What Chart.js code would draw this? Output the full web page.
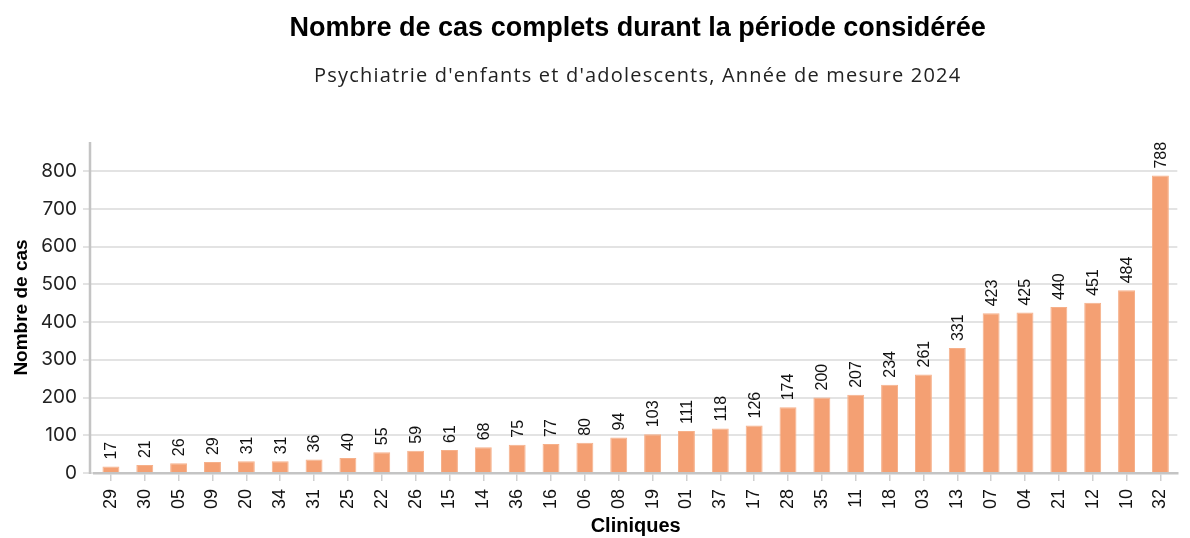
<!DOCTYPE html>
<html><head><meta charset="utf-8">
<script src="https://cdn.jsdelivr.net/npm/chart.js@4"></script>
<style>html,body{margin:0;padding:0;background:#fff}#wrap{width:1190px;height:538px}</style>
</head><body><div id="wrap"><canvas id="c" width="1190" height="538"></canvas></div>
<script>
const titleText = "Nombre de cas complets durant la période considérée";
const subtitleText = "Psychiatrie d'enfants et d'adolescents, Année de mesure 2024";
const categories = ["29","30","05","09","20","34","31","25","22","26","15","14","36","16","06","08","19","01","37","17","28","35","11","18","03","13","07","04","21","12","10","32"];
const values = [17,21,26,29,31,31,36,40,55,59,61,68,75,77,80,94,103,111,118,126,174,200,207,234,261,331,423,425,440,451,484,788];
const yTicks = [0,100,200,300,400,500,600,700,800];
const yLabel = "Nombre de cas";
const xLabel = "Cliniques";

const labelPlugin = {
  id: 'barLabels',
  afterDatasetsDraw(chart) {
    const ctx = chart.ctx;
    const meta = chart.getDatasetMeta(0);
    ctx.save();
    ctx.font = '16px "Liberation Sans", Arial, sans-serif';
    ctx.fillStyle = '#111';
    ctx.textAlign = 'left';
    ctx.textBaseline = 'middle';
    meta.data.forEach((bar, i) => {
      ctx.save();
      ctx.translate(bar.x + 1, bar.y - 7);
      ctx.rotate(-Math.PI / 2);
      ctx.fillText(String(values[i]), 0, 0);
      ctx.restore();
    });
    ctx.restore();
  }
};
const axisPlugin = {
  id: 'yAxisLine',
  afterDraw(chart) {
    const ctx = chart.ctx;
    const a = chart.chartArea;
    ctx.save();
    ctx.strokeStyle = '#c4c4c4';
    ctx.lineWidth = 2.5;
    ctx.beginPath();
    ctx.moveTo(90, a.top);
    ctx.lineTo(90, a.bottom + 1);
    ctx.stroke();
    ctx.restore();
  }
};
const titlePlugin = {
  id: 'titles',
  afterDraw(chart) {
    const ctx = chart.ctx;
    const a = chart.chartArea;
    const cx = (a.left + a.right) / 2 + 2;
    ctx.save();
    ctx.fillStyle = '#000';
    ctx.textAlign = 'center';
    ctx.textBaseline = 'middle';
    ctx.font = 'bold 27px "Liberation Sans", Arial, sans-serif';
    ctx.fillText(titleText, cx, 29);
    ctx.font = '20px "Open Sans", sans-serif';
    ctx.letterSpacing = '1.2px';
    ctx.fillStyle = '#222';
    ctx.fillText(subtitleText, cx, 76);
    ctx.restore();
  }
};

new Chart(document.getElementById('c'), {
  type: 'bar',
  data: {
    labels: categories,
    datasets: [{
      data: values,
      backgroundColor: '#f4a073',
      borderColor: '#f6b08a',
      borderWidth: 1,
      barPercentage: 0.5,
      categoryPercentage: 1.0
    }]
  },
  options: {
    responsive: false,
    animation: false,
    layout: { padding: { top: 142, right: 0, left: 0, bottom: 0 } },
    plugins: { legend: { display: false }, tooltip: { enabled: false }, title: { display: false } },
    scales: {
      x: {
        offset: true,
        afterFit(axis) { axis.height = 65; },
        grid: { drawOnChartArea: false, drawTicks: true, offset: false, tickLength: 8, tickColor: '#cfcfcf', lineWidth: 1.5 },
        border: { color: '#c4c4c4', width: 2.5 },
        ticks: { minRotation: 90, maxRotation: 90, autoSkip: false, color: '#111', padding: 8,
          font: { family: '"Liberation Sans", Arial, sans-serif', size: 18 } },
        title: { display: true, text: xLabel, color: '#000', padding: { top: 0, bottom: 0 },
          font: { family: '"Liberation Sans", Arial, sans-serif', size: 20, weight: 'bold' } }
      },
      y: {
        min: 0, max: 877,
        afterFit(axis) { axis.width = 94; },
        afterBuildTicks(axis) { axis.ticks = yTicks.map(v => ({ value: v })); },
        grid: { color: '#e3e3e3', lineWidth: 2, tickLength: 11, tickColor: '#e3e3e3' },
        border: { display: false },
        ticks: { color: '#222', padding: 6, font: { family: 'Inter, sans-serif', size: 19 } },
        title: { display: true, text: yLabel, color: '#000', padding: { top: 10, bottom: 0 },
          font: { family: '"Liberation Sans", Arial, sans-serif', size: 19, weight: 'bold' } }
      }
    }
  },
  plugins: [labelPlugin, axisPlugin, titlePlugin]
});
</script></body></html>
